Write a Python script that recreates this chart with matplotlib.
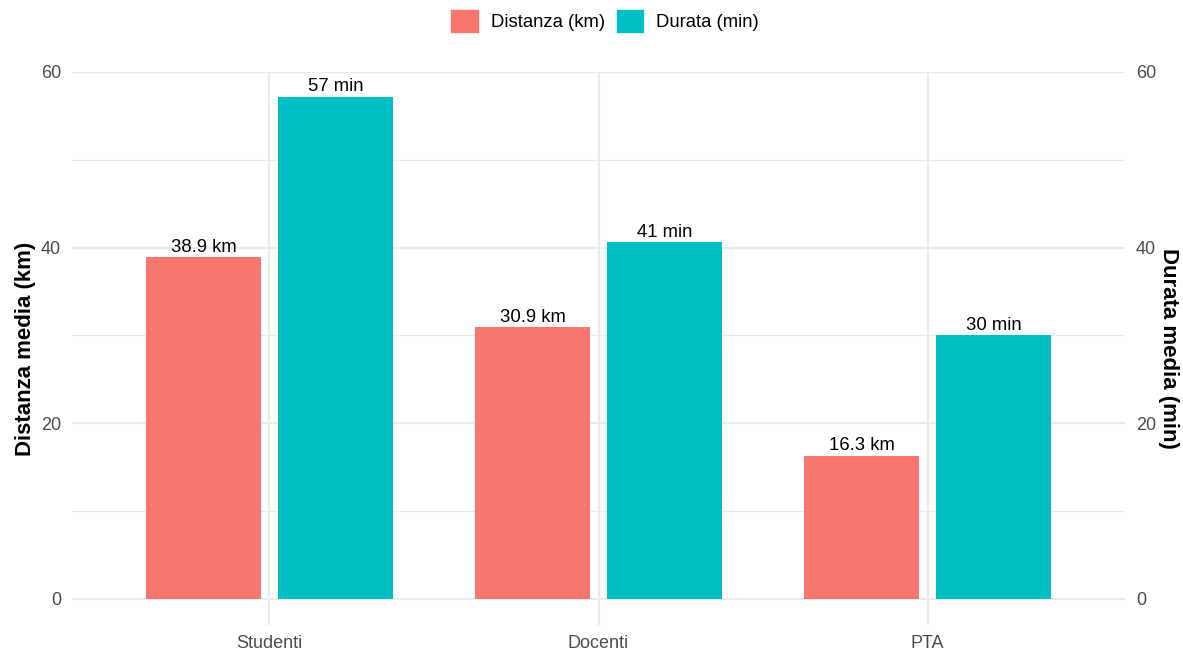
import numpy as np
import matplotlib
matplotlib.use('Agg')
import matplotlib.pyplot as plt
from matplotlib.patches import Patch

plt.rcParams['font.family'] = ['Liberation Sans', 'DejaVu Sans']

# data
categorie = ["Studenti", "Docenti", "PTA"]
distanza_km = [38.9, 30.9, 16.3]
durata_min = [57.2, 40.6, 30.0]
yticks = [0, 20, 40, 60]

col_dist = "#F8766D"
col_dur = "#00BFC4"
grid_col = "#EBEBEB"
tick_col = "#4D4D4D"

fig = plt.figure(figsize=(11.83, 6.5), dpi=100)
ax = fig.add_axes([72/1183, 25/650, (1125-72)/1183, (625-72)/650])

x = np.arange(1, len(categorie) + 1)
w = 0.35
off = 0.2

# grid
for v in [10, 30, 50]:
    ax.axhline(v, color=grid_col, lw=0.8, zorder=0)
for v in yticks:
    ax.axhline(v, color=grid_col, lw=1.6, zorder=0)
for v in x:
    ax.axvline(v, color=grid_col, lw=1.6, zorder=0)

ax.bar(x - off, distanza_km, width=w, color=col_dist, zorder=2)
ax.bar(x + off, durata_min, width=w, color=col_dur, zorder=2)

for xi, v in zip(x, distanza_km):
    ax.annotate("%.1f km" % v, (xi - off, v), xytext=(0, 1), textcoords="offset points",
                ha="center", va="bottom", fontsize=13.3, color="black", clip_on=False)
for xi, v in zip(x, durata_min):
    ax.annotate("%d min" % round(v), (xi + off, v), xytext=(0, 1), textcoords="offset points",
                ha="center", va="bottom", fontsize=13.3, color="black", clip_on=False)

ax.set_xlim(0.4, 3.6)
ax.set_ylim(-3, 60)
ax.set_xticks(x)
ax.set_xticklabels(categorie)
ax.set_yticks(yticks)
ax.tick_params(axis="both", length=0, labelsize=13, labelcolor=tick_col)
ax.tick_params(axis="y", pad=8)
ax.tick_params(axis="x", pad=7)
for s in ax.spines.values():
    s.set_visible(False)
ax.set_ylabel("Distanza media (km)", fontsize=16, fontweight="bold", labelpad=3)

ax2 = ax.twinx()
ax2.set_ylim(-3, 60)
ax2.set_yticks(yticks)
ax2.tick_params(axis="y", length=0, labelsize=13, labelcolor=tick_col, pad=8)
for s in ax2.spines.values():
    s.set_visible(False)
ax2.set_ylabel("Durata media (min)", fontsize=16, fontweight="bold", rotation=270,
               labelpad=16)

handles = [Patch(color=col_dist, label="Distanza (km)"),
           Patch(color=col_dur, label="Durata (min)")]
fig.legend(handles=handles, loc="center", bbox_to_anchor=(605/1183, 1 - 21/650),
           ncol=2, frameon=False, fontsize=13.3, handlelength=1.45, handleheight=1.45,
           handletextpad=0.7, columnspacing=0.65)

fig.savefig("out.png", dpi=100)
